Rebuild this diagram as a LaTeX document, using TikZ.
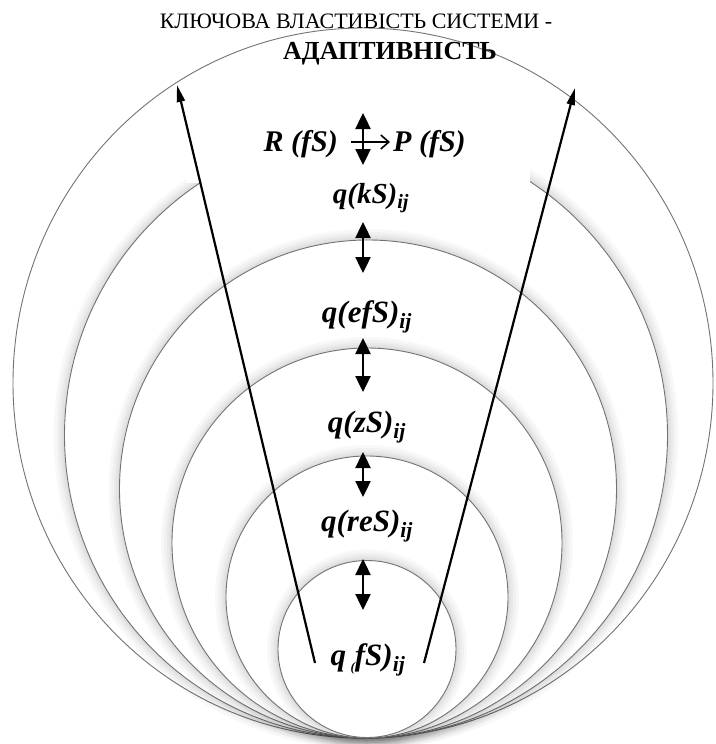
\documentclass[tikz,border=0pt]{standalone}
\usepackage{fontspec}
\setmainfont{Liberation Serif}
\usetikzlibrary{arrows.meta}
\begin{document}
\begin{tikzpicture}[x=1pt,y=-1pt,
  ring/.style={draw=black!55, line width=0.9pt, fill=white},
  glow/.style={draw=black, opacity=0.028, fill=none},
  lbl/.style={font=\fontsize{31}{33}\selectfont\bfseries\itshape, inner sep=0pt, anchor=base},
  klbl/.style={lbl, font=\fontsize{29}{31}\selectfont\bfseries\itshape},
  rp/.style={lbl, font=\fontsize{30}{32}\selectfont\bfseries\itshape},
  ttl/.style={font=\fontsize{22}{24}\selectfont, inner sep=0pt, anchor=base},
  dbl/.style={line width=2.4pt, {Triangle[length=16pt,width=15pt]}-{Triangle[length=16pt,width=15pt]}},
  harr/.style={line width=1.6pt, -{Straight Barb[length=8pt,width=14pt]}},
  longarr/.style={line width=2.2pt, -{Triangle[length=17pt,width=8pt]}},
]
\useasboundingbox (0,0) rectangle (715,744);
\fill[white] (0,0) rectangle (715,744);
% outer circle
\draw[ring] (363,383) ellipse [x radius=350pt, y radius=355pt];
% nested circles with soft glow
\foreach \cx/\cy/\rx/\ry in {366/435.5/301.5/302.5, 368/489/248.5/249, 367/543/195/195, 367/597/141/141, 367/649/89/88.5}{
  \foreach \w in {22,16,11,7,3}{
    \draw[glow, line width=\w pt] (\cx,\cy) ellipse [x radius=\rx pt, y radius=\ry pt];
  }
  \draw[ring] (\cx,\cy) ellipse [x radius=\rx pt, y radius=\ry pt];
}
% white panel hiding top of second circle
\fill[white] (187,95) rectangle (530,183);
% title
\node[ttl] (t1) at (356,28) {КЛЮЧОВА ВЛАСТИВІСТЬ СИСТЕМИ -};
\node[ttl, font=\fontsize{26}{28}\selectfont\bfseries] (t2) at (390,59) {АДАПТИВНІСТЬ};
% labels
\node[rp, anchor=base east] (R) at (338,151) {R (fS)};
\node[rp, anchor=base west] (P) at (393,151) {P (fS)};
\node[klbl] (qk) at (371,203) {q(kS)\textsubscript{ij}};
\node[lbl] (qef) at (367,322) {q(efS)\textsubscript{ij}};
\node[lbl] (qz) at (367,432) {q(zS)\textsubscript{ij}};
\node[lbl] (qre) at (367,531) {q(reS)\textsubscript{ij}};
\node[lbl] (qf) at (368,665) {q\hspace{0.14em}\raisebox{-0.2em}{\fontsize{13}{14}\selectfont(}fS)\textsubscript{ij}};
% arrow end points
\coordinate (c0a) at (363,113); \coordinate (c0b) at (363,165);
\coordinate (h0a) at (351,142); \coordinate (h0b) at (390,142);
\coordinate (c1a) at (363,222); \coordinate (c1b) at (363,273);
\coordinate (c2a) at (363,338); \coordinate (c2b) at (363,392);
\coordinate (c3a) at (363,452); \coordinate (c3b) at (363,497);
\coordinate (c4a) at (363,559); \coordinate (c4b) at (363,610);
\coordinate (lb) at (315,663); \coordinate (lt) at (177,85);
\coordinate (rb) at (424,663); \coordinate (rt) at (575,88);
% arrows
\draw[dbl] (c0a) -- (c0b);
\draw[harr] (h0a) -- (h0b);
\draw[dbl] (c1a) -- (c1b);
\draw[dbl] (c2a) -- (c2b);
\draw[dbl] (c3a) -- (c3b);
\draw[dbl] (c4a) -- (c4b);
\draw[longarr] (lb) -- (lt);
\draw[longarr] (rb) -- (rt);
\end{tikzpicture}
\end{document}
